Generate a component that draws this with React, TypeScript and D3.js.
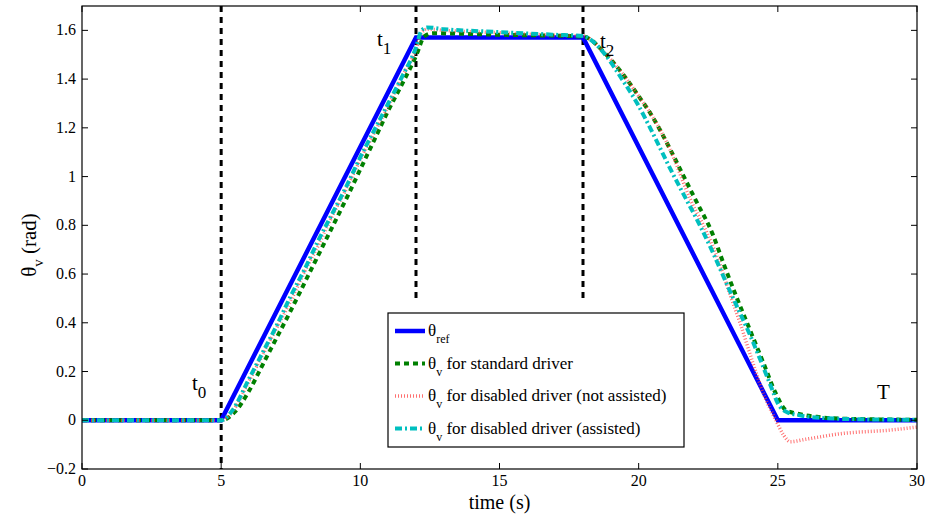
import React from "react";
import * as d3 from "d3";

const HALF_PI = Math.PI / 2;

const refT = [0, 5, 12, 18, 25, 30];
const refV = [0, 0, HALF_PI, HALF_PI, 0, 0];

const stdT = [0, 5, 5.5, 6, 6.5, 7, 7.5, 8, 8.5, 9, 9.5, 10, 10.5, 11, 11.5, 12, 12.3, 12.6, 15, 18, 18.3, 18.63, 19, 19.47, 20, 20.43, 21.15, 21.6, 22.05, 22.65, 23.06, 23.5, 24, 24.5, 24.93, 25.29, 25.7, 26.4, 27.5, 30];
const stdV = [0, 0, 0.035, 0.12, 0.23, 0.34, 0.45, 0.565, 0.68, 0.795, 0.91, 1.03, 1.15, 1.27, 1.38, 1.495, 1.575, 1.588, 1.582, 1.575, 1.56, 1.525, 1.48, 1.415, 1.33, 1.258, 1.108, 1.005, 0.903, 0.766, 0.64, 0.51, 0.37, 0.23, 0.109, 0.041, 0.027, 0.014, 0.006, 0.002];

const disT = [0, 5, 5.4, 6, 6.5, 7, 7.5, 8, 8.5, 9, 9.5, 10, 10.5, 11, 11.5, 12, 12.2, 12.4, 13, 15, 17, 18, 18.3, 18.63, 19, 19.5, 20, 20.45, 21.15, 21.87, 22.45, 22.95, 23.3, 23.67, 24.09, 24.55, 24.93, 25.2, 25.45, 26, 27.27, 29.06, 30];
const disV = [0, 0, 0.035, 0.16, 0.27, 0.38, 0.49, 0.61, 0.72, 0.84, 0.95, 1.07, 1.18, 1.29, 1.41, 1.52, 1.59, 1.605, 1.6, 1.59, 1.58, 1.577, 1.56, 1.525, 1.48, 1.41, 1.33, 1.255, 1.105, 0.903, 0.77, 0.63, 0.51, 0.39, 0.24, 0.09, 0.0, -0.06, -0.088, -0.078, -0.055, -0.04, -0.028];

const asT = [0, 5, 5.4, 6, 6.5, 7, 7.5, 8, 8.5, 9, 9.5, 10, 10.5, 11, 11.5, 12, 12.2, 12.4, 13, 15, 17, 18, 18.4, 18.8, 19.4, 19.95, 20.5, 21.1, 21.6, 22.2, 22.7, 23.2, 23.6, 24, 24.4, 24.75, 25, 25.3, 25.8, 26.5, 28, 30];
const asV = [0, 0, 0.04, 0.17, 0.28, 0.39, 0.51, 0.62, 0.74, 0.85, 0.96, 1.08, 1.19, 1.3, 1.41, 1.53, 1.6, 1.612, 1.605, 1.593, 1.582, 1.577, 1.55, 1.5, 1.4, 1.3, 1.18, 1.04, 0.93, 0.8, 0.68, 0.55, 0.45, 0.35, 0.24, 0.14, 0.07, 0.035, 0.02, 0.01, 0.004, 0.002];

const xTicks = [0, 5, 10, 15, 20, 25, 30];
const yTicks = [-0.2, 0, 0.2, 0.4, 0.6, 0.8, 1, 1.2, 1.4, 1.6];
const markT = [5, 12, 18];

const L = 82, R = 917, T = 6, B = 469;
const FONT = "Liberation Serif, DejaVu Serif, serif";

export default function App() {
  const x = d3.scaleLinear().domain([0, 30]).range([L, R]);
  const y = d3.scaleLinear().domain([-0.2, 1.7]).range([B, T]);
  const line = (ts: number[], vs: number[], curve = true) =>
    d3
      .line<number>()
      .x((_, i) => x(ts[i]))
      .y((v) => y(v))
      .curve(curve ? d3.curveMonotoneX : d3.curveLinear)(vs) || "";

  const blue = { stroke: "#0000ff", strokeWidth: 4.5, fill: "none" };
  const green = { stroke: "#008000", strokeWidth: 4, fill: "none", strokeDasharray: "5,4" };
  const red = { stroke: "#ff4040", strokeWidth: 3.5, fill: "none", strokeDasharray: "1,2", strokeOpacity: 0.75 };
  const cyan = { stroke: "#00bfbf", strokeWidth: 4, fill: "none", strokeDasharray: "7,3,2,3" };

  const legendRows = [
    { style: blue, sub: "ref", text: "" },
    { style: green, sub: "v", text: " for standard driver" },
    { style: red, sub: "v", text: " for disabled driver (not assisted)" },
    { style: cyan, sub: "v", text: " for disabled driver (assisted)" },
  ];

  const ts = { fontFamily: FONT };

  return (
    <svg width={925} height={518} style={{ position: "absolute", left: 0, top: 0, background: "#fff", fontFamily: FONT }}>
      <rect x={0} y={0} width={925} height={518} fill="#fff" />
      <defs>
        <clipPath id="plot">
          <rect x={L} y={T} width={R - L} height={B - T} />
        </clipPath>
      </defs>
      {markT.map((t, i) => (
        <line
          key={"m" + i}
          x1={x(t)}
          x2={x(t)}
          y1={T}
          y2={i === 0 ? B : y(0.49)}
          stroke="#000"
          strokeWidth={3}
          strokeDasharray="6,5"
        />
      ))}
      <g clipPath="url(#plot)">
        <path d={line(refT, refV, false)} {...blue} />
        <path d={line(stdT, stdV)} {...green} />
        <path d={line(disT, disV)} {...red} />
        <path d={line(asT, asV)} {...cyan} />
      </g>
      <rect x={L} y={T} width={R - L} height={B - T} fill="none" stroke="#000" strokeWidth={1.2} />
      {xTicks.map((t) => (
        <g key={"x" + t}>
          <line x1={x(t)} x2={x(t)} y1={B} y2={B - 6} stroke="#000" />
          <line x1={x(t)} x2={x(t)} y1={T} y2={T + 6} stroke="#000" />
          <text x={x(t)} y={486} textAnchor="middle" fontSize={16} style={ts}>
            {t}
          </text>
        </g>
      ))}
      {yTicks.map((v) => (
        <g key={"y" + v}>
          <line x1={L} x2={L + 6} y1={y(v)} y2={y(v)} stroke="#000" />
          <line x1={R} x2={R - 6} y1={y(v)} y2={y(v)} stroke="#000" />
          <text x={76} y={y(v) + 5} textAnchor="end" fontSize={16} style={ts}>
            {v < 0 ? "\u2212" + Math.abs(v) : String(v)}
          </text>
        </g>
      ))}
      <text x={(L + R) / 2} y={509} textAnchor="middle" fontSize={20} style={ts}>
        time (s)
      </text>
      <text transform="translate(36,245) rotate(-90)" textAnchor="middle" fontSize={21} style={ts}>
        θ<tspan fontSize={15} dy={7}>v</tspan>
        <tspan dy={-7}> (rad)</tspan>
      </text>
      <text x={192} y={390} fontSize={21} style={ts}>
        t<tspan fontSize={17} dy={8}>0</tspan>
      </text>
      <text x={377} y={46} fontSize={21} style={ts}>
        t<tspan fontSize={17} dy={8}>1</tspan>
      </text>
      <text x={600} y={48} fontSize={21} style={ts}>
        t<tspan fontSize={17} dy={8}>2</tspan>
      </text>
      <text x={877} y={399} fontSize={21} style={ts}>
        T
      </text>
      <rect x={388} y={313} width={296} height={134} fill="#fff" stroke="#000" strokeWidth={1.2} />
      {legendRows.map((r, i) => {
        const cy = 331 + i * 32.5;
        return (
          <g key={"l" + i}>
            <line x1={395} x2={425} y1={cy} y2={cy} {...r.style} />
            <text x={428} y={cy + 5} fontSize={17} style={ts}>
              θ<tspan fontSize={12} dy={7}>{r.sub}</tspan>
              {r.text ? <tspan dy={-7}>{r.text}</tspan> : null}
            </text>
          </g>
        );
      })}
    </svg>
  );
}
